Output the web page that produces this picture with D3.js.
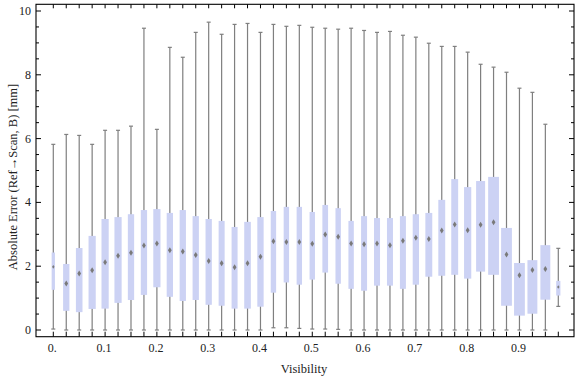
<!DOCTYPE html>
<html>
<head>
<meta charset="utf-8">
<script src="https://cdn.jsdelivr.net/npm/d3@7"></script>
<style>
  body { margin: 0; background: #fff; }
  text { font-family: "Liberation Serif", "DejaVu Serif", serif; }
</style>
</head>
<body>
<svg id="chart" width="576" height="377"></svg>
<script>
// visibility bins (one box per bin)
const visibility = d3.range(40).map(i => +(i * 0.025).toFixed(3));

// whisker low / q1 / median / q3 / whisker high, in mm
const lowVals  = [0.03, 0, 0, 0, 0, 0, 0, 0, 0, 0, 0, 0, 0, 0, 0, 0, 0, 0.07, 0.07, 0.05, 0.03, 0.03, 0.02, 0, 0, 0, 0, 0, 0, 0, 0, 0, 0, 0, 0, 0, 0, 0, 0, 0.74];
const q1Vals   = [1.26, 0.60, 0.56, 0.66, 0.67, 0.85, 0.94, 1.10, 1.34, 1.04, 0.91, 0.94, 0.79, 0.76, 0.67, 0.67, 0.73, 1.17, 1.49, 1.42, 1.58, 1.80, 1.45, 1.29, 1.23, 1.39, 1.39, 1.29, 1.42, 1.67, 1.70, 1.73, 1.61, 1.83, 1.73, 0.76, 0.45, 0.51, 0.95, 1.08];
const medVals  = [1.98, 1.46, 1.77, 1.87, 2.12, 2.33, 2.42, 2.65, 2.71, 2.50, 2.46, 2.35, 2.16, 2.09, 1.97, 2.09, 2.30, 2.78, 2.76, 2.76, 2.70, 2.99, 2.92, 2.71, 2.69, 2.71, 2.66, 2.80, 2.89, 2.85, 3.12, 3.31, 3.13, 3.30, 3.38, 2.37, 1.72, 1.88, 1.91, 1.35];
const q3Vals   = [2.43, 2.07, 2.57, 2.95, 3.48, 3.54, 3.63, 3.76, 3.79, 3.67, 3.76, 3.57, 3.48, 3.42, 3.23, 3.39, 3.54, 3.73, 3.86, 3.86, 3.70, 3.92, 3.82, 3.42, 3.57, 3.51, 3.51, 3.57, 3.63, 3.67, 4.08, 4.73, 4.48, 4.67, 4.80, 3.20, 2.10, 2.19, 2.66, 1.54];
const highVals = [5.82, 6.13, 6.10, 5.82, 6.26, 6.26, 6.39, 9.46, 6.29, 8.86, 8.55, 9.33, 9.65, 9.27, 9.58, 9.61, 9.33, 9.58, 9.52, 9.55, 9.49, 9.46, 9.43, 9.46, 9.39, 9.33, 9.36, 9.24, 9.18, 8.99, 8.89, 8.89, 8.71, 8.33, 8.24, 8.08, 7.58, 7.45, 6.45, 2.56];

// relative box weight (boxes are drawn with width proportional to this)
const boxWeight = [0.55, 1.05, 1.1, 1.2, 1.2, 1.2, 1.05, 1.05, 1.2, 1.05, 1.05, 1.05, 1.05, 1.0, 1.0, 1.1, 1.05, 0.9, 0.9, 0.9, 0.9, 0.95, 0.9, 0.9, 1.0, 1.0, 1.0, 1.0, 1.05, 1.15, 1.15, 1.15, 1.2, 1.5, 1.8, 1.8, 1.8, 1.65, 1.65, 0.7];

const xTickLabels = ["0.", "0.1", "0.2", "0.3", "0.4", "0.5", "0.6", "0.7", "0.8", "0.9"];
const yTickVals = [0, 2, 4, 6, 8, 10];

const boxes = visibility.map((v, i) => ({
    v: v, lo: lowVals[i], q1: q1Vals[i], med: medVals[i], q3: q3Vals[i], hi: highVals[i], w: boxWeight[i]
}));

const svg = d3.select('#chart');

// frame edges
const frameL = 36, frameR = 574, frameT = 4.3, frameB = 336.7;

const x = d3.scaleLinear().domain([0, 0.975]).range([53.3, 558.3]);
const y = d3.scaleLinear().domain([0, 10]).range([330, 11]);
const wScale = d3.scaleLinear().domain([0, 1]).range([0, 6]);

const whiskerColor = '#7f7f7f';
const boxColor = '#ccd2f4';

// whiskers
const g = svg.append('g');
g.selectAll('line.whisker').data(boxes).enter().append('line')
    .attr('class', 'whisker')
    .attr('x1', d => x(d.v)).attr('x2', d => x(d.v))
    .attr('y1', d => y(d.lo)).attr('y2', d => y(d.hi))
    .attr('stroke', whiskerColor).attr('stroke-width', 1.2);

// whisker caps
['lo', 'hi'].forEach(k => {
    g.selectAll('line.cap-' + k).data(boxes).enter().append('line')
        .attr('class', 'cap-' + k)
        .attr('x1', d => x(d.v) - 2).attr('x2', d => x(d.v) + 2)
        .attr('y1', d => y(d[k])).attr('y2', d => y(d[k]))
        .attr('stroke', whiskerColor).attr('stroke-width', 1.2);
});

// boxes
g.selectAll('rect.box').data(boxes).enter().append('rect')
    .attr('class', 'box')
    .attr('x', d => x(d.v) - wScale(d.w) / 2)
    .attr('width', d => wScale(d.w))
    .attr('y', d => y(d.q3))
    .attr('height', d => y(d.q1) - y(d.q3))
    .attr('fill', boxColor);

// median diamonds
g.selectAll('path.median').data(boxes).enter().append('path')
    .attr('class', 'median')
    .attr('d', d => {
        let cx = x(d.v), cy = y(d.med);
        let hw = d.w < 0.8 ? 1.2 : 1.9, hh = d.w < 0.8 ? 1.8 : 3;
        return `M${cx},${cy - hh}L${cx + hw},${cy}L${cx},${cy + hh}L${cx - hw},${cy}Z`;
    })
    .attr('fill', '#7a7a7a');

// frame
svg.append('rect')
    .attr('x', frameL).attr('y', frameT)
    .attr('width', frameR - frameL).attr('height', frameB - frameT)
    .attr('fill', 'none').attr('stroke', '#000').attr('stroke-width', 1.1);

// top / bottom ticks at each box
const ticks = svg.append('g').attr('stroke', '#000').attr('stroke-width', 1);
ticks.selectAll('line.tt').data(visibility).enter().append('line')
    .attr('x1', d => x(d)).attr('x2', d => x(d))
    .attr('y1', frameT).attr('y2', frameT + 4);
ticks.selectAll('line.bt').data(visibility).enter().append('line')
    .attr('x1', d => x(d)).attr('x2', d => x(d))
    .attr('y1', frameB).attr('y2', frameB - 5);

// left / right ticks, every 0.5
const yMinor = d3.range(0, 10.01, 0.5);
ticks.selectAll('line.lt').data(yMinor).enter().append('line')
    .attr('x1', frameL).attr('x2', d => frameL + (d % 2 === 0 ? 5 : 3))
    .attr('y1', d => y(d)).attr('y2', d => y(d));
ticks.selectAll('line.rt').data(yMinor).enter().append('line')
    .attr('x1', frameR).attr('x2', d => frameR - (d % 2 === 0 ? 5 : 3))
    .attr('y1', d => y(d)).attr('y2', d => y(d));

// tick labels
svg.selectAll('text.ylab').data(yTickVals).enter().append('text')
    .attr('x', 31).attr('y', d => y(d) + 4)
    .attr('text-anchor', 'end')
    .attr('font-size', 12)
    .attr('fill', '#222')
    .text(d => d);

svg.selectAll('text.xlab').data(xTickLabels).enter().append('text')
    .attr('x', (d, i) => x(i * 0.1) - 1).attr('y', 352)
    .attr('text-anchor', 'middle')
    .attr('font-size', 12)
    .attr('fill', '#222')
    .text(d => d);

// axis titles
svg.append('text')
    .attr('x', 304).attr('y', 373)
    .attr('text-anchor', 'middle')
    .attr('font-size', 12.5)
    .attr('fill', '#222')
    .text('Visibility');

svg.append('text')
    .attr('transform', 'translate(17,177) rotate(-90)')
    .attr('text-anchor', 'middle')
    .attr('font-size', 12.5)
    .attr('fill', '#222')
    .text('Absolute Error (Ref\u2192Scan, B) [mm]');
</script>
</body>
</html>
